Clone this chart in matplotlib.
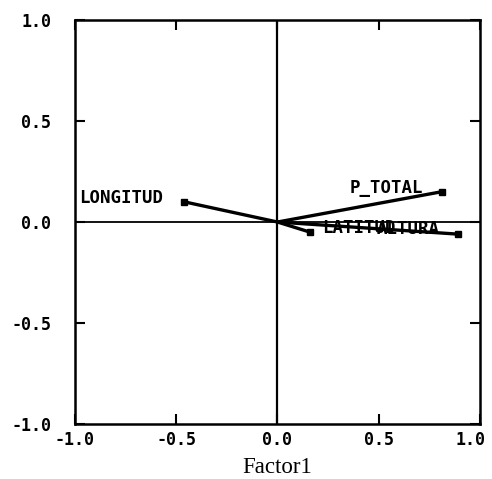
import matplotlib
matplotlib.use("Agg")
import matplotlib.pyplot as plt
from matplotlib.transforms import ScaledTranslation

# 因子载荷（Factor1, Factor2）
variables = ["LONGITUD", "P_TOTAL", "LATITUD", "ALTURA"]
factor1 = [-0.46, 0.81, 0.16, 0.89]
factor2 = [0.10, 0.15, -0.05, -0.06]
ticks = [-1.0, -0.5, 0.0, 0.5, 1.0]
tick_labels = ["-1.0", "-0.5", "0.0", "0.5", "1.0"]

MONO = "DejaVu Sans Mono"

fig = plt.figure(figsize=(4.92, 4.79), dpi=100)
ax = fig.add_axes([0.152, 0.115, 0.824, 0.843])

ax.axhline(0, color="black", lw=1.3, zorder=1)
ax.axvline(0, color="black", lw=1.6, zorder=1)

for x, y in zip(factor1, factor2):
    ax.plot([0, x], [0, y], color="black", lw=2.4, solid_capstyle="butt", zorder=2)
    ax.plot(x, y, marker="s", ms=4, color="black", zorder=3)

# 标签位置
label_pos = {
    "LONGITUD": (-0.98, 0.12, "left"),
    "P_TOTAL": (0.72, 0.17, "right"),
    "LATITUD": (0.22, -0.03, "left"),
    "ALTURA": (0.80, -0.035, "right"),
}
for name in variables:
    lx, ly, ha = label_pos[name]
    ax.text(lx, ly, name, ha=ha, va="center", family=MONO,
            fontweight="bold", fontsize=12.5, zorder=4)

ax.set_xlim(-1, 1)
ax.set_ylim(-1, 1)
ax.set_xticks(ticks)
ax.set_yticks(ticks)
ax.set_xticklabels(tick_labels, family=MONO, fontweight="bold", fontsize=12)
ax.set_yticklabels(tick_labels, family=MONO, fontweight="bold", fontsize=12)
ax.tick_params(direction="in", length=7, width=1.5, top=True, right=True)
ax.tick_params(axis="y", pad=17)
ax.tick_params(axis="x", pad=5)
for sp in ax.spines.values():
    sp.set_linewidth(1.8)

# 最右侧刻度标签略向左移，避免被裁切
last = ax.get_xticklabels()[-1]
last.set_transform(last.get_transform() + ScaledTranslation(-7 / 72, 0, fig.dpi_scale_trans))

ax.set_xlabel("Factor1", family="Liberation Serif", fontsize=16.5, labelpad=6)

fig.savefig("out.png", dpi=100)
